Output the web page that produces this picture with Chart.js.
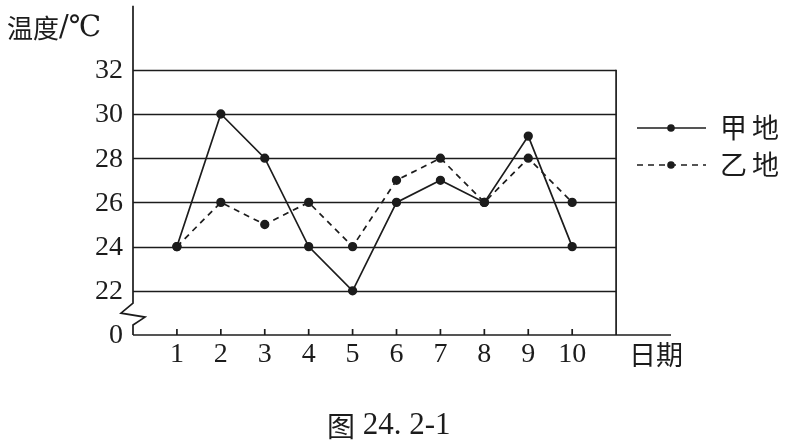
<!DOCTYPE html>
<html>
<head>
<meta charset="utf-8">
<script src="https://cdn.jsdelivr.net/npm/chart.js@4"></script>
<style>
  html, body { margin: 0; background: #fff; }
  #wrap { width: 793px; height: 447px; }
</style>
</head>
<body>
<div id="wrap"><canvas id="chart"></canvas></div>
<script>
// data
const days = [1, 2, 3, 4, 5, 6, 7, 8, 9, 10];
const jiaTemps = [24, 30, 28, 24, 22, 26, 27, 26, 29, 24];
const yiTemps = [24, 26, 25, 26, 24, 27, 28, 26, 28, 26];
const yTicks = [20, 22, 24, 26, 28, 30, 32];
const yTickLabels = ["0", "22", "24", "26", "28", "30", "32"];
const seriesNames = ["甲地", "乙地"];

const ink = "#1c1c1c";
const serif = "'Liberation Serif', 'DejaVu Serif', serif";
const cjk = "'Noto Sans CJK SC', sans-serif";

function line(ctx, pts) {
  ctx.beginPath();
  ctx.moveTo(pts[0][0], pts[0][1]);
  for (let i = 1; i < pts.length; i++) ctx.lineTo(pts[i][0], pts[i][1]);
  ctx.stroke();
}

// text made of pieces in different fonts, left to right
function mixed(ctx, parts, x, y) {
  parts.forEach(([txt, font]) => {
    ctx.font = font;
    ctx.fillText(txt, x, y);
    x += ctx.measureText(txt).width;
  });
}

// axes, grid, break mark and all the text around the plot
const frame = {
  id: "frame",
  beforeDatasetsDraw(chart) {
    const ctx = chart.ctx;
    const x = chart.scales.x, y = chart.scales.y, area = chart.chartArea;
    const x0 = x.getPixelForValue(0);
    const xr = x.getPixelForValue(11);
    const y0 = y.getPixelForValue(20);
    ctx.save();
    ctx.strokeStyle = ink;
    ctx.lineWidth = 1.7;
    // horizontal grid lines
    yTicks.slice(1).forEach((v) => {
      const py = Math.round(y.getPixelForValue(v)) + 0.5;
      line(ctx, [[x0, py], [xr, py]]);
    });
    // right border
    line(ctx, [[xr, y.getPixelForValue(32)], [xr, y0]]);
    // x axis
    line(ctx, [[x0, y0], [area.right, y0]]);
    // y axis with break
    line(ctx, [
      [x0, area.top],
      [x0, y.getPixelForValue(21.44)],
      [x0 - 12, y.getPixelForValue(20.99)],
      [x0 + 12, y.getPixelForValue(20.81)],
      [x0, y.getPixelForValue(20.45)],
      [x0, y0],
    ]);
    // tick marks on x axis
    days.forEach((d) => {
      const px = x.getPixelForValue(d);
      line(ctx, [[px, y0], [px, y0 - 6]]);
    });
    // y tick labels
    ctx.fillStyle = ink;
    ctx.font = "28px " + serif;
    ctx.textAlign = "right";
    ctx.textBaseline = "middle";
    yTicks.forEach((v, i) => {
      ctx.fillText(yTickLabels[i], x0 - 10, y.getPixelForValue(v) + 1);
    });
    // x tick labels
    ctx.textAlign = "center";
    days.forEach((d) => {
      ctx.fillText(String(d), x.getPixelForValue(d), y0 + 20);
    });
    // axis titles
    ctx.textAlign = "left";
    mixed(ctx, [["温度", "26px " + cjk], ["/℃", "29px 'DejaVu Serif', serif"]], 7, 28);
    ctx.font = "27px " + cjk;
    ctx.fillText("日期", 629, y0 + 20);
    // caption
    mixed(ctx, [["图", "28px " + cjk], [" 24. 2-1", "31px " + serif]], 327, 426);
    ctx.restore();
  },
  afterDraw(chart) {
    // legend on the right
    const ctx = chart.ctx;
    const rows = [128, 165];
    ctx.save();
    chart.data.datasets.forEach((ds, i) => {
      const py = rows[i];
      ctx.strokeStyle = ink;
      ctx.lineWidth = 1.7;
      ctx.setLineDash(ds.borderDash || []);
      line(ctx, [[637, py], [706, py]]);
      ctx.setLineDash([]);
      ctx.fillStyle = ink;
      ctx.beginPath();
      ctx.arc(671, py, 3.8, 0, Math.PI * 2);
      ctx.fill();
      ctx.font = "27px " + cjk;
      ctx.textAlign = "left";
      ctx.textBaseline = "middle";
      ctx.letterSpacing = "5px";
      ctx.fillText(ds.label, 720, py);
    });
    ctx.restore();
  },
};

new Chart(document.getElementById("chart"), {
  type: "line",
  data: {
    datasets: [
      {
        label: seriesNames[0],
        data: days.map((d, i) => ({ x: d, y: jiaTemps[i] })),
        borderColor: ink,
        borderWidth: 1.7,
        pointRadius: 3.8,
        pointBackgroundColor: ink,
        pointBorderColor: ink,
        tension: 0,
        clip: false,
      },
      {
        label: seriesNames[1],
        data: days.map((d, i) => ({ x: d, y: yiTemps[i] })),
        borderColor: ink,
        borderWidth: 1.7,
        borderDash: [6, 5],
        pointRadius: 3.8,
        pointBackgroundColor: ink,
        pointBorderColor: ink,
        tension: 0,
        clip: false,
      },
    ],
  },
  options: {
    responsive: true,
    maintainAspectRatio: false,
    animation: false,
    layout: { padding: { left: 133, right: 122, top: 5, bottom: 112 } },
    scales: {
      x: { type: "linear", min: 0, max: 12.25, display: false },
      y: { type: "linear", min: 20, max: 34.9, display: false },
    },
    plugins: { legend: { display: false }, tooltip: { enabled: false } },
    events: [],
  },
  plugins: [frame],
});
</script>
</body>
</html>
